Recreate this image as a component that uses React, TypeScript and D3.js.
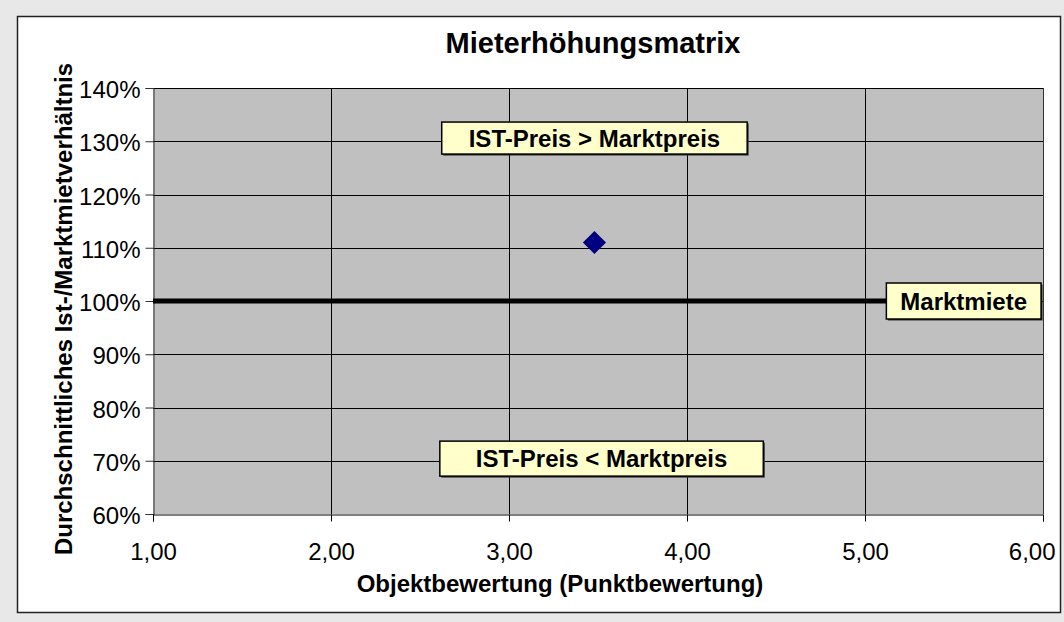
import React, { useEffect, useRef } from "react";
import * as d3 from "d3";

// Achsen
const xTicks = [1, 2, 3, 4, 5, 6];
const yTicks = [60, 70, 80, 90, 100, 110, 120, 130, 140];

// Datenpunkt (Objektbewertung, Ist-/Marktmietverhältnis in %)
const pointX = [3.48];
const pointY = [111];

// Marktmiete-Linie
const marketX = [1, 5.12];
const marketY = [100, 100];
const marketLabel = "Marktmiete";

// Textfelder
const noteTexts = ["IST-Preis > Marktpreis", "IST-Preis < Marktpreis"];
const noteX = [3.48, 3.52];
const noteY = [130.6, 70.4];

const WIDTH = 1064;
const HEIGHT = 622;
const FONT = "'Liberation Sans', Arial, sans-serif";

const measure = (text: string, font: string) => {
  const c = document.createElement("canvas").getContext("2d");
  if (!c) return text.length * 12;
  c.font = font;
  return c.measureText(text).width;
};

const App = () => {
  const svgRef = useRef<SVGSVGElement>(null);

  useEffect(() => {
    const svg = d3.select(svgRef.current);
    svg.selectAll("*").remove();

    // page + chart area
    svg.append("rect").attr("width", WIDTH).attr("height", HEIGHT).attr("fill", "#e8e8e8");
    svg
      .append("rect")
      .attr("x", 17.5)
      .attr("y", 16.5)
      .attr("width", 1043)
      .attr("height", 596)
      .attr("fill", "#fff")
      .attr("stroke", "#222")
      .attr("stroke-width", 1.5);

    const left = 153;
    const right = 1043;
    const top = 88;
    const bottom = 514;

    const x = d3.scaleLinear().domain([1, 6]).range([left, right]);
    const y = d3.scaleLinear().domain([60, 140]).range([bottom, top]);

    // plot area
    svg
      .append("rect")
      .attr("x", left)
      .attr("y", top)
      .attr("width", right - left)
      .attr("height", bottom - top)
      .attr("fill", "#c0c0c0");

    // grid
    const grid = svg.append("g");
    xTicks.slice(1, -1).forEach((t) => {
      grid
        .append("line")
        .attr("x1", Math.round(x(t)) + 0.5)
        .attr("x2", Math.round(x(t)) + 0.5)
        .attr("y1", top)
        .attr("y2", bottom)
        .attr("stroke", "#000")
        .attr("stroke-width", 1);
    });
    yTicks.slice(1).forEach((t) => {
      grid
        .append("line")
        .attr("x1", left)
        .attr("x2", right)
        .attr("y1", Math.round(y(t)) + 0.5)
        .attr("y2", Math.round(y(t)) + 0.5)
        .attr("stroke", "#000")
        .attr("stroke-width", 1);
    });

    // plot border right
    svg
      .append("line")
      .attr("x1", right + 0.5)
      .attr("x2", right + 0.5)
      .attr("y1", top)
      .attr("y2", bottom)
      .attr("stroke", "#333");

    const tickFont = 24;

    // y axis
    const yAxis = svg
      .append("g")
      .attr("transform", `translate(${left + 0.5},0)`)
      .call(
        d3
          .axisLeft(y)
          .tickValues(yTicks)
          .tickSize(8)
          .tickPadding(5)
          .tickFormat((d) => `${d}%`)
      );
    yAxis.select(".domain").attr("stroke", "#333");
    yAxis.selectAll(".tick line").attr("stroke", "#333");
    yAxis
      .selectAll(".tick text")
      .attr("font-family", FONT)
      .attr("font-size", tickFont)
      .attr("fill", "#000")
      .attr("dy", "0.4em");

    // x axis
    const fmtX = (d: number) => d3.format(".2f")(d).replace(".", ",");
    const xAxis = svg
      .append("g")
      .attr("transform", `translate(0,${bottom + 0.5})`)
      .call(
        d3
          .axisBottom(x)
          .tickValues(xTicks)
          .tickSize(7)
          .tickPadding(21)
          .tickFormat((d) => fmtX(d as number))
      );
    xAxis.select(".domain").attr("stroke", "#000");
    xAxis.selectAll(".tick line").attr("stroke", "#000");
    xAxis
      .selectAll(".tick text")
      .attr("font-family", FONT)
      .attr("font-size", tickFont)
      .attr("fill", "#000")
      .attr("dx", (d) => {
        const w = measure(fmtX(d as number), `${tickFont}px ${FONT}`);
        const over = x(d as number) + w / 2 - 1055;
        return over > 0 ? -over : 0;
      });

    // Marktmiete line
    const line = d3
      .line<number>()
      .x((d, i) => x(marketX[i]))
      .y((d) => y(d));
    svg
      .append("path")
      .attr("d", line(marketY))
      .attr("fill", "none")
      .attr("stroke", "#000")
      .attr("stroke-width", 5);

    const boxSize = 24;
    const boxFont = `bold ${boxSize}px ${FONT}`;
    const drawBox = (cx: number, cy: number, text: string, padX: number, h: number) => {
      const tw = measure(text, boxFont);
      const w = tw + padX * 2;
      const g = svg.append("g");
      g.append("rect")
        .attr("x", cx - w / 2 + 1.5)
        .attr("y", cy - h / 2 + 1.5)
        .attr("width", w)
        .attr("height", h)
        .attr("fill", "#333");
      g.append("rect")
        .attr("x", cx - w / 2)
        .attr("y", cy - h / 2)
        .attr("width", w)
        .attr("height", h)
        .attr("fill", "#ffffcc")
        .attr("stroke", "#000")
        .attr("stroke-width", 1.5);
      g.append("text")
        .attr("x", cx)
        .attr("y", cy)
        .attr("dy", "0.36em")
        .attr("text-anchor", "middle")
        .attr("font-family", FONT)
        .attr("font-weight", "bold")
        .attr("font-size", boxSize)
        .attr("fill", "#000")
        .text(text);
    };

    // Marktmiete label at line end
    const mw = measure(marketLabel, boxFont) + 28;
    drawBox(x(marketX[marketX.length - 1]) + mw / 2, y(marketY[marketY.length - 1]), marketLabel, 14, 36);

    // notes
    const notePads = [27, 36];
    const noteHeights = [32, 35];
    noteTexts.forEach((t, i) => {
      drawBox(x(noteX[i]), y(noteY[i]), t, notePads[i], noteHeights[i]);
    });

    // data point
    svg
      .selectAll("path.pt")
      .data(pointX)
      .join("path")
      .attr("class", "pt")
      .attr("d", d3.symbol().type(d3.symbolDiamond2).size(340)())
      .attr("transform", (d, i) => `translate(${x(d)},${y(pointY[i])})`)
      .attr("fill", "#000080");

    // titles
    svg
      .append("text")
      .attr("x", 593)
      .attr("y", 53)
      .attr("text-anchor", "middle")
      .attr("font-family", FONT)
      .attr("font-weight", "bold")
      .attr("font-size", 29)
      .text("Mieterhöhungsmatrix");

    svg
      .append("text")
      .attr("x", 560)
      .attr("y", 592)
      .attr("text-anchor", "middle")
      .attr("font-family", FONT)
      .attr("font-weight", "bold")
      .attr("font-size", 24)
      .text("Objektbewertung (Punktbewertung)");

    svg
      .append("text")
      .attr("transform", "translate(72,309) rotate(-90)")
      .attr("text-anchor", "middle")
      .attr("font-family", FONT)
      .attr("font-weight", "bold")
      .attr("font-size", 24)
      .text("Durchschnittliches Ist-/Marktmietverhältnis");
  }, []);

  return (
    <div style={{ position: "absolute", left: 0, top: 0, width: WIDTH, height: HEIGHT }}>
      <svg ref={svgRef} width={WIDTH} height={HEIGHT} style={{ display: "block" }} />
    </div>
  );
};

export default App;
